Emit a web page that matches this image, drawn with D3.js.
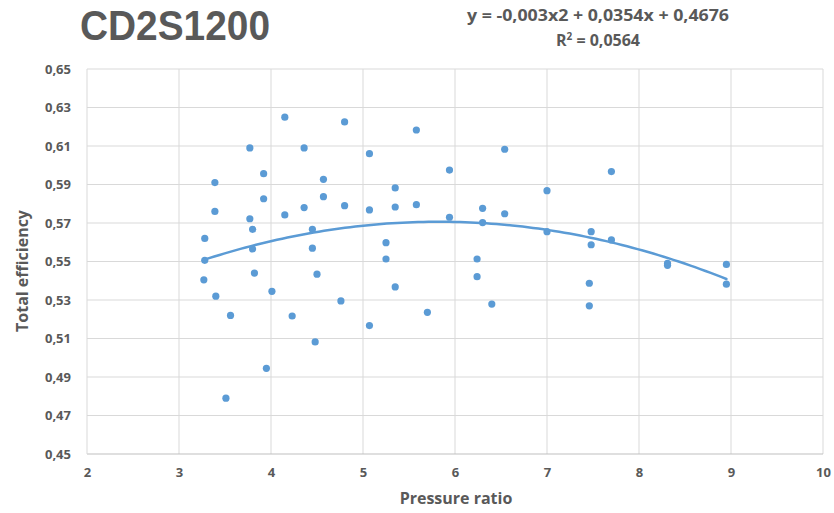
<!DOCTYPE html>
<html>
<head>
<meta charset="utf-8">
<script src="https://cdn.jsdelivr.net/npm/d3@7"></script>
<style>
  html, body { margin: 0; padding: 0; background: #fff; }
  svg { display: block; }
  text { font-family: "Open Sans", "Noto Sans", sans-serif; font-weight: 700; fill: #595959; }
</style>
</head>
<body>
<svg id="chart" width="834" height="513"></svg>
<script>
// Measured points: pressure ratio vs. total efficiency
const pressureRatio = [
  3.28, 3.28, 3.27, 3.39, 3.39, 3.40, 3.56, 3.51, 3.77, 3.77,
  3.80, 3.80, 3.82, 3.92, 3.92, 4.01, 3.95, 4.15, 4.15, 4.23,
  4.36, 4.36, 4.45, 4.45, 4.50, 4.48, 4.57, 4.57, 4.80, 4.80,
  4.76, 5.07, 5.07, 5.07, 5.25, 5.25, 5.35, 5.35, 5.35, 5.58,
  5.58, 5.70, 5.94, 5.94, 6.24, 6.24, 6.30, 6.30, 6.40, 6.54,
  6.54, 7.00, 7.00, 7.48, 7.48, 7.46, 7.46, 7.70, 7.70, 8.31,
  8.31, 8.95, 8.95
];
const totalEfficiency = [
  0.562, 0.5506, 0.5405, 0.591, 0.576, 0.532, 0.522, 0.479, 0.609, 0.5722,
  0.5667, 0.5565, 0.544, 0.5956, 0.5826, 0.5345, 0.4945, 0.625, 0.5742, 0.5217,
  0.609, 0.578, 0.5667, 0.5569, 0.5434, 0.5082, 0.5927, 0.5837, 0.6225, 0.579,
  0.5295, 0.606, 0.5768, 0.5167, 0.5598, 0.5513, 0.5882, 0.5783, 0.5368, 0.6183,
  0.5795, 0.5236, 0.5975, 0.573, 0.5513, 0.5421, 0.5776, 0.5702, 0.5279, 0.6083,
  0.5748, 0.5868, 0.5655, 0.5655, 0.5587, 0.5387, 0.527, 0.5967, 0.5612, 0.549,
  0.548, 0.5485, 0.5382
];

// Polynomial trendline (order 2): y = a*x^2 + b*x + c
const trendCoefficients = [-0.00304, 0.0354, 0.4676];
const rSquared = 0.0564;

const xTicks = [2, 3, 4, 5, 6, 7, 8, 9, 10];
const yTicks = [0.45, 0.47, 0.49, 0.51, 0.53, 0.55, 0.57, 0.59, 0.61, 0.63, 0.65];

const chartTitle = "CD2S1200";
const xTitle = "Pressure ratio";
const yTitle = "Total efficiency";

const svg = d3.select("#chart");
const margin = { left: 87, right: 11, top: 69, bottom: 59 };
const width = 834, height = 513;

const x = d3.scaleLinear().domain([2, 10]).range([margin.left, width - margin.right]);
const y = d3.scaleLinear().domain([0.45, 0.65]).range([height - margin.bottom, margin.top]);

const comma = v => String(v).replace(".", ",");
const fmtY = v => d3.format(".2f")(v).replace(".", ",");

// Gridlines
const grid = svg.append("g");
grid.selectAll("line.gx").data(xTicks.slice(1)).join("line")
  .attr("x1", d => x(d)).attr("x2", d => x(d))
  .attr("y1", y(0.65)).attr("y2", y(0.45))
  .attr("stroke", "#d9d9d9").attr("stroke-width", 1);
grid.selectAll("line.gy").data(yTicks.slice(1)).join("line")
  .attr("x1", x(2)).attr("x2", x(10))
  .attr("y1", d => y(d)).attr("y2", d => y(d))
  .attr("stroke", "#d9d9d9").attr("stroke-width", 1);

// Axis lines
svg.append("line").attr("x1", x(2)).attr("x2", x(10)).attr("y1", y(0.45)).attr("y2", y(0.45))
  .attr("stroke", "#bfbfbf").attr("stroke-width", 1);
svg.append("line").attr("x1", x(2)).attr("x2", x(2)).attr("y1", y(0.45)).attr("y2", y(0.65))
  .attr("stroke", "#d9d9d9").attr("stroke-width", 1);

// Axes (labels only)
const xAxis = d3.axisBottom(x).tickValues(xTicks).tickSize(0).tickPadding(14).tickFormat(d => d);
const gx = svg.append("g").attr("transform", `translate(0,${y(0.45)})`).call(xAxis);
gx.select(".domain").remove();
gx.selectAll("text").style("font-size", "13px").attr("fill", "#595959")
  .style("font-family", "'Open Sans', sans-serif").style("font-weight", 700);

const yAxis = d3.axisLeft(y).tickValues(yTicks).tickSize(0).tickPadding(16).tickFormat(fmtY);
const gy = svg.append("g").attr("transform", `translate(${x(2)},0)`).call(yAxis);
gy.select(".domain").remove();
gy.selectAll("text").style("font-size", "13px").attr("fill", "#595959")
  .style("font-family", "'Open Sans', sans-serif").style("font-weight", 700);

// Scatter points
const points = pressureRatio.map((p, i) => ({ p, e: totalEfficiency[i] }));
svg.append("g").selectAll("circle").data(points).join("circle")
  .attr("cx", d => x(d.p)).attr("cy", d => y(d.e)).attr("r", 3.6)
  .attr("fill", "#5b9bd5");

// Trendline over the data range
const [a, b, c] = trendCoefficients;
const xMin = d3.min(pressureRatio), xMax = d3.max(pressureRatio);
const trend = d3.range(0, 101).map(i => {
  const xv = xMin + (xMax - xMin) * i / 100;
  return [xv, a * xv * xv + b * xv + c];
});
svg.append("path").datum(trend)
  .attr("d", d3.line().x(d => x(d[0])).y(d => y(d[1])))
  .attr("fill", "none").attr("stroke", "#5b9bd5").attr("stroke-width", 2.5)
  .attr("stroke-linecap", "round");

// Titles
svg.append("text").attr("x", 80).attr("y", 40).text(chartTitle)
  .style("font-family", "'Liberation Sans', Arial, sans-serif")
  .style("font-size", "42px").attr("textLength", 190).attr("lengthAdjust", "spacingAndGlyphs");

const trimCoef = v => comma(parseFloat(v.toFixed(4)));
const sign = v => (v < 0 ? "-" : "+");
const eqText = `y = ${a < 0 ? "-" : ""}${trimCoef(Math.abs(a))}x2 ${sign(b)} ${trimCoef(Math.abs(b))}x ${sign(c)} ${trimCoef(Math.abs(c))}`;
svg.append("text").attr("x", 598).attr("y", 21).attr("text-anchor", "middle")
  .style("font-size", "16px").attr("textLength", 262).attr("lengthAdjust", "spacingAndGlyphs")
  .text(eqText);
const r2 = svg.append("text").attr("x", 598).attr("y", 46).attr("text-anchor", "middle")
  .style("font-size", "16px");
r2.append("tspan").text("R");
r2.append("tspan").text("2").attr("dy", -6).style("font-size", "10px");
r2.append("tspan").text(` = ${comma(rSquared)}`).attr("dy", 6);

svg.append("text").attr("x", 456).attr("y", 504).attr("text-anchor", "middle")
  .style("font-size", "16px").text(xTitle);
svg.append("text").attr("transform", `translate(28,271) rotate(-90)`)
  .attr("text-anchor", "middle").style("font-size", "16px").text(yTitle);
</script>
</body>
</html>
